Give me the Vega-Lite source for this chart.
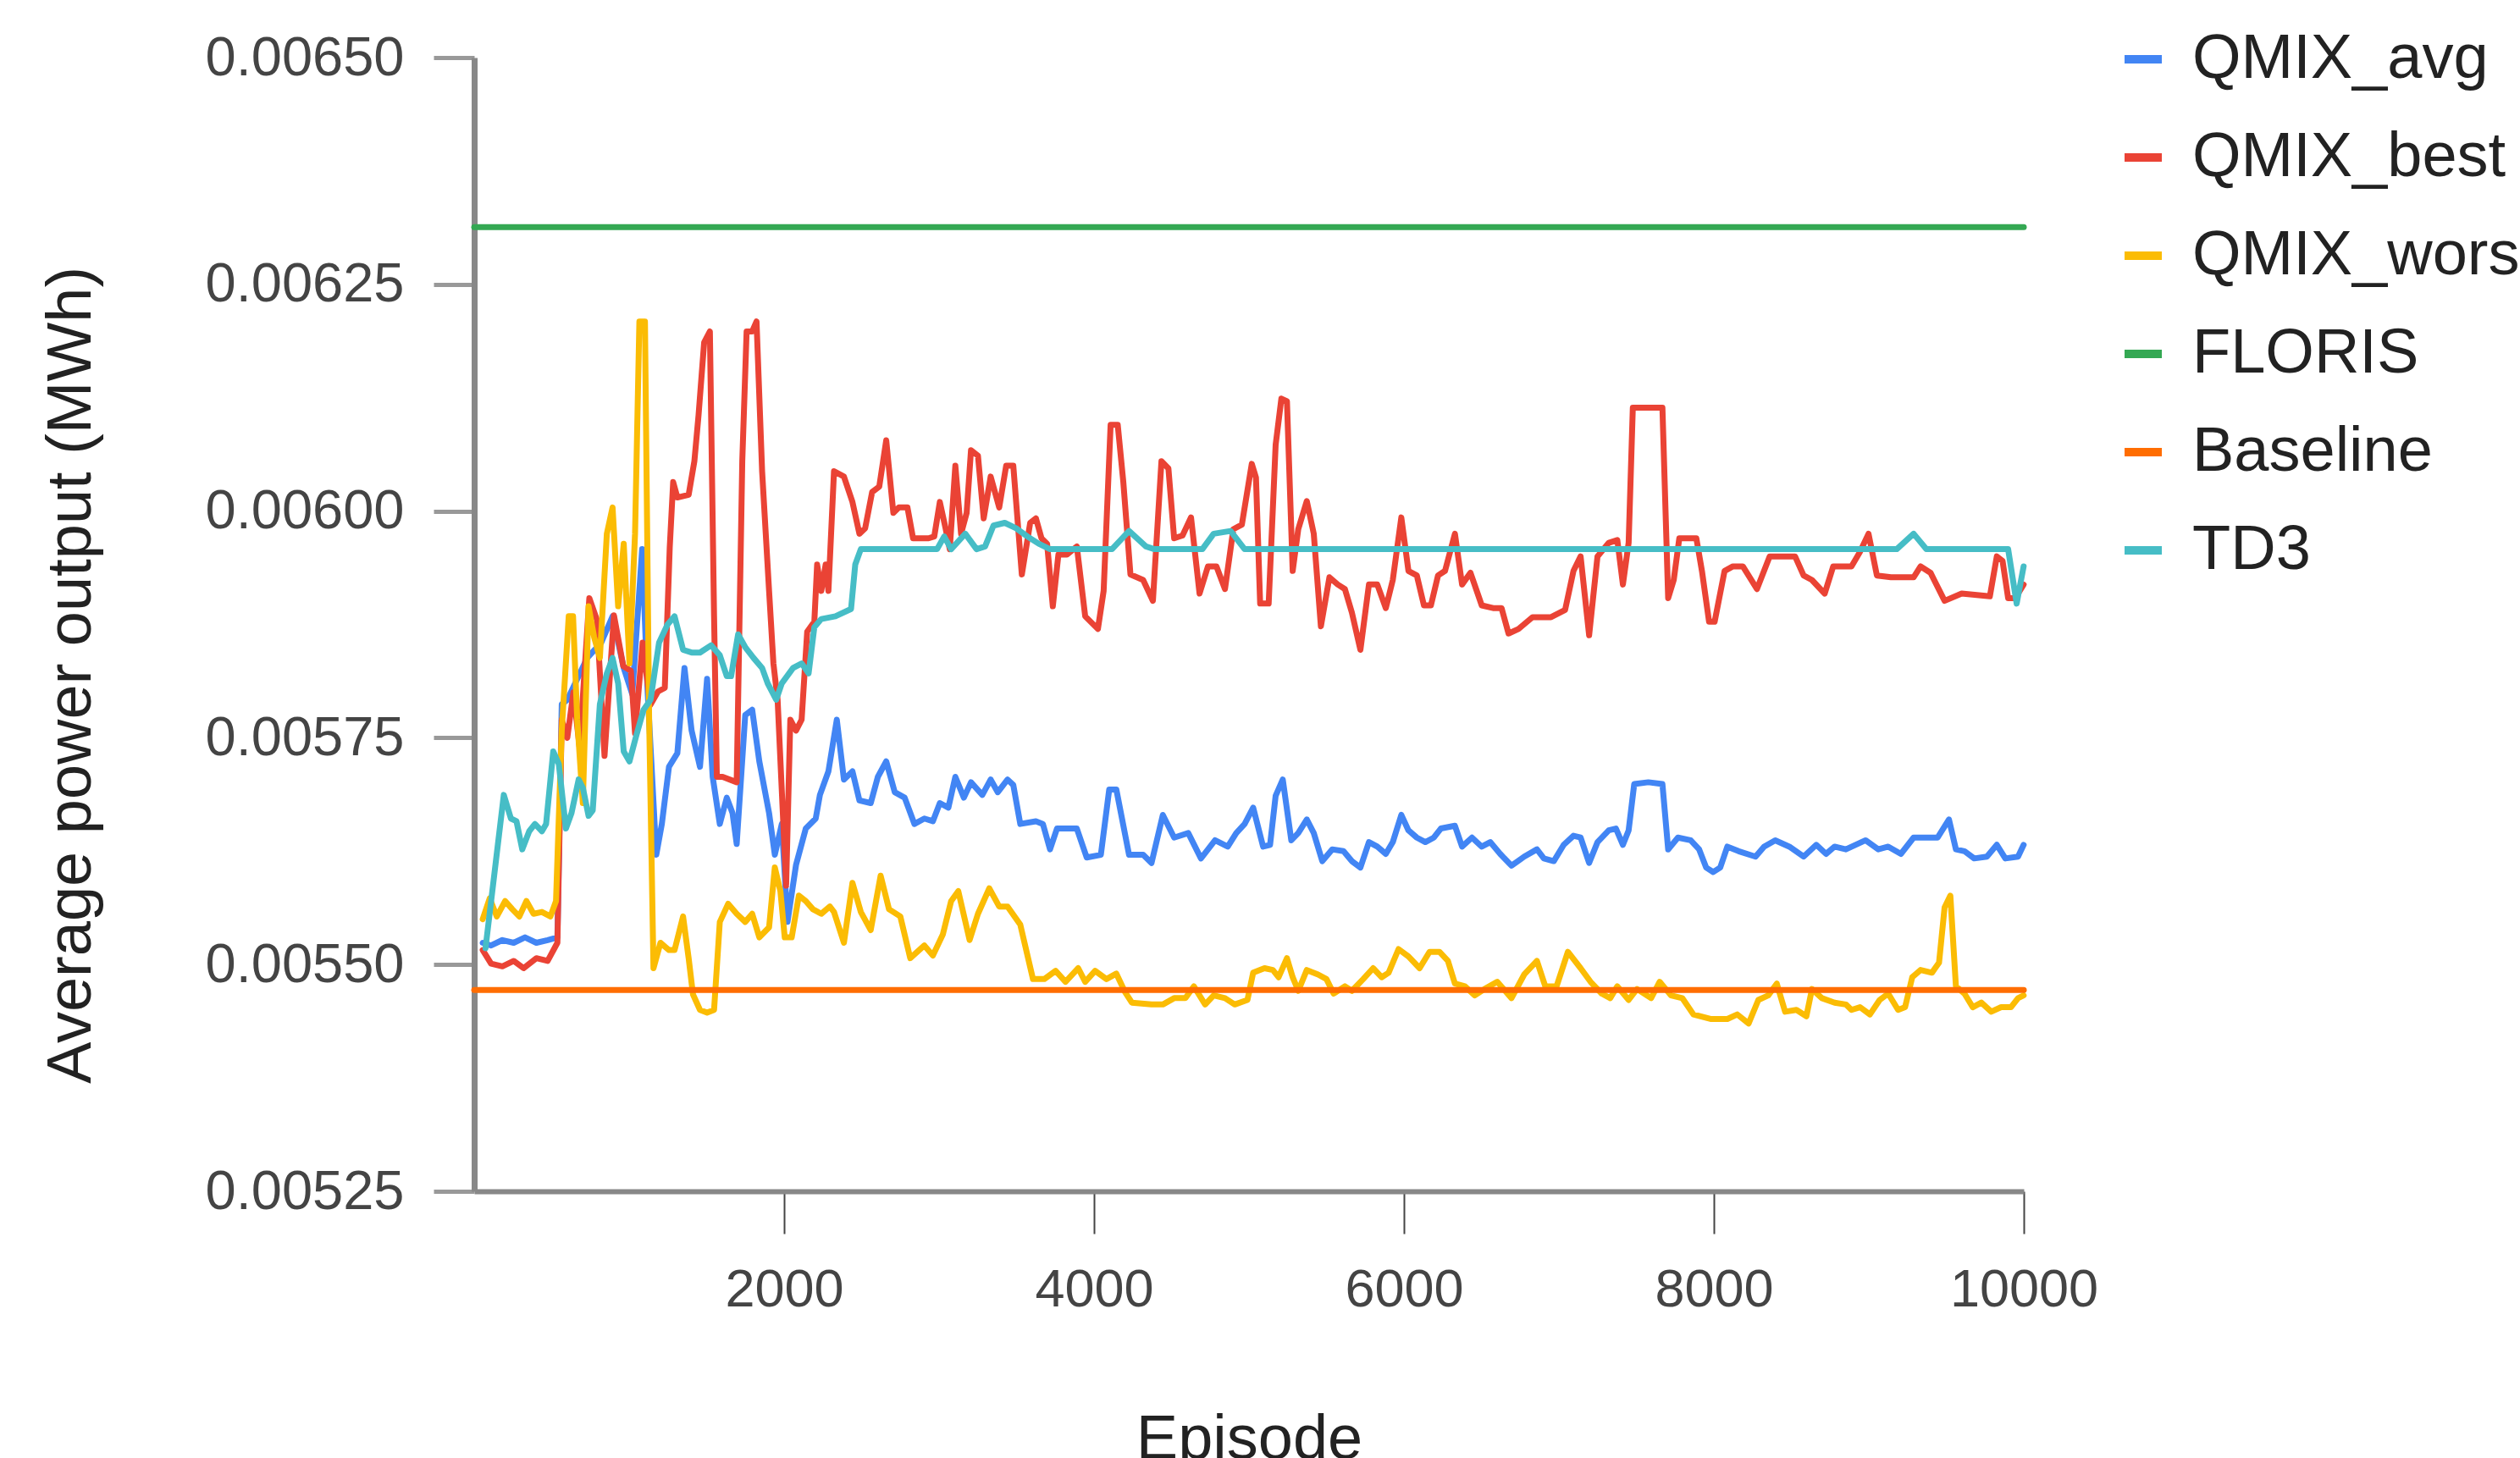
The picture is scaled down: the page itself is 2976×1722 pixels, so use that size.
{
"$schema": "https://vega.github.io/schema/vega-lite/v6.json",
"width": 1830, "height": 1339,
"autosize": {"type": "none"},
"padding": {"left": 560, "top": 68, "right": 586, "bottom": 315},
"background": "white",
"config": {"view": {"stroke": null}, "font": "Liberation Sans"},
"data": {"values": [
{"series":"QMIX_avg","episode":55,"value":0.005524},{"series":"QMIX_avg","episode":109,"value":0.005521},{"series":"QMIX_avg","episode":182,"value":0.005527},{"series":"QMIX_avg","episode":255,"value":0.005524},{"series":"QMIX_avg","episode":328,"value":0.00553},{"series":"QMIX_avg","episode":401,"value":0.005524},{"series":"QMIX_avg","episode":474,"value":0.005527},{"series":"QMIX_avg","episode":537,"value":0.00553},{"series":"QMIX_avg","episode":565,"value":0.005787},{"series":"QMIX_avg","episode":601,"value":0.005792},{"series":"QMIX_avg","episode":729,"value":0.005838},{"series":"QMIX_avg","episode":820,"value":0.005855},{"series":"QMIX_avg","episode":893,"value":0.005884},{"series":"QMIX_avg","episode":965,"value":0.005827},{"series":"QMIX_avg","episode":1020,"value":0.005798},{"series":"QMIX_avg","episode":1084,"value":0.005958},{"series":"QMIX_avg","episode":1120,"value":0.005798},{"series":"QMIX_avg","episode":1175,"value":0.005621},{"series":"QMIX_avg","episode":1211,"value":0.005655},{"series":"QMIX_avg","episode":1257,"value":0.005718},{"series":"QMIX_avg","episode":1311,"value":0.005733},{"series":"QMIX_avg","episode":1357,"value":0.005827},{"series":"QMIX_avg","episode":1403,"value":0.005758},{"series":"QMIX_avg","episode":1457,"value":0.005718},{"series":"QMIX_avg","episode":1503,"value":0.005815},{"series":"QMIX_avg","episode":1539,"value":0.005707},{"series":"QMIX_avg","episode":1585,"value":0.005655},{"series":"QMIX_avg","episode":1630,"value":0.005684},{"series":"QMIX_avg","episode":1667,"value":0.005667},{"series":"QMIX_avg","episode":1694,"value":0.005633},{"series":"QMIX_avg","episode":1749,"value":0.005775},{"series":"QMIX_avg","episode":1794,"value":0.005781},{"series":"QMIX_avg","episode":1840,"value":0.005724},{"series":"QMIX_avg","episode":1903,"value":0.005667},{"series":"QMIX_avg","episode":1940,"value":0.005621},{"series":"QMIX_avg","episode":1985,"value":0.005655},{"series":"QMIX_avg","episode":2022,"value":0.005547},{"series":"QMIX_avg","episode":2077,"value":0.00561},{"series":"QMIX_avg","episode":2140,"value":0.00565},{"series":"QMIX_avg","episode":2204,"value":0.005661},{"series":"QMIX_avg","episode":2231,"value":0.005687},{"series":"QMIX_avg","episode":2286,"value":0.005713},{"series":"QMIX_avg","episode":2340,"value":0.00577},{"series":"QMIX_avg","episode":2386,"value":0.005704},{"series":"QMIX_avg","episode":2441,"value":0.005713},{"series":"QMIX_avg","episode":2486,"value":0.005681},{"series":"QMIX_avg","episode":2559,"value":0.005678},{"series":"QMIX_avg","episode":2605,"value":0.005707},{"series":"QMIX_avg","episode":2659,"value":0.005724},{"series":"QMIX_avg","episode":2714,"value":0.00569},{"series":"QMIX_avg","episode":2778,"value":0.005684},{"series":"QMIX_avg","episode":2841,"value":0.005655},{"series":"QMIX_avg","episode":2905,"value":0.005661},{"series":"QMIX_avg","episode":2960,"value":0.005658},{"series":"QMIX_avg","episode":3005,"value":0.005678},{"series":"QMIX_avg","episode":3060,"value":0.005673},{"series":"QMIX_avg","episode":3105,"value":0.005707},{"series":"QMIX_avg","episode":3160,"value":0.005684},{"series":"QMIX_avg","episode":3206,"value":0.005701},{"series":"QMIX_avg","episode":3279,"value":0.005687},{"series":"QMIX_avg","episode":3333,"value":0.005704},{"series":"QMIX_avg","episode":3379,"value":0.00569},{"series":"QMIX_avg","episode":3442,"value":0.005704},{"series":"QMIX_avg","episode":3479,"value":0.005698},{"series":"QMIX_avg","episode":3524,"value":0.005655},{"series":"QMIX_avg","episode":3625,"value":0.005658},{"series":"QMIX_avg","episode":3670,"value":0.005655},{"series":"QMIX_avg","episode":3716,"value":0.005627},{"series":"QMIX_avg","episode":3761,"value":0.00565},{"series":"QMIX_avg","episode":3889,"value":0.00565},{"series":"QMIX_avg","episode":3953,"value":0.005618},{"series":"QMIX_avg","episode":4044,"value":0.005621},{"series":"QMIX_avg","episode":4098,"value":0.005693},{"series":"QMIX_avg","episode":4144,"value":0.005693},{"series":"QMIX_avg","episode":4226,"value":0.005621},{"series":"QMIX_avg","episode":4317,"value":0.005621},{"series":"QMIX_avg","episode":4371,"value":0.005612},{"series":"QMIX_avg","episode":4444,"value":0.005665},{"series":"QMIX_avg","episode":4517,"value":0.00564},{"series":"QMIX_avg","episode":4608,"value":0.005645},{"series":"QMIX_avg","episode":4690,"value":0.005617},{"series":"QMIX_avg","episode":4781,"value":0.005637},{"series":"QMIX_avg","episode":4863,"value":0.00563},{"series":"QMIX_avg","episode":4918,"value":0.005645},{"series":"QMIX_avg","episode":4972,"value":0.005655},{"series":"QMIX_avg","episode":5027,"value":0.005673},{"series":"QMIX_avg","episode":5091,"value":0.00563},{"series":"QMIX_avg","episode":5136,"value":0.005632},{"series":"QMIX_avg","episode":5172,"value":0.005686},{"series":"QMIX_avg","episode":5218,"value":0.005704},{"series":"QMIX_avg","episode":5273,"value":0.005637},{"series":"QMIX_avg","episode":5318,"value":0.005645},{"series":"QMIX_avg","episode":5373,"value":0.00566},{"series":"QMIX_avg","episode":5418,"value":0.005645},{"series":"QMIX_avg","episode":5473,"value":0.005614},{"series":"QMIX_avg","episode":5537,"value":0.005627},{"series":"QMIX_avg","episode":5610,"value":0.005625},{"series":"QMIX_avg","episode":5664,"value":0.005614},{"series":"QMIX_avg","episode":5719,"value":0.005607},{"series":"QMIX_avg","episode":5774,"value":0.005635},{"series":"QMIX_avg","episode":5828,"value":0.00563},{"series":"QMIX_avg","episode":5883,"value":0.005622},{"series":"QMIX_avg","episode":5928,"value":0.005635},{"series":"QMIX_avg","episode":5983,"value":0.005665},{"series":"QMIX_avg","episode":6029,"value":0.005648},{"series":"QMIX_avg","episode":6083,"value":0.00564},{"series":"QMIX_avg","episode":6138,"value":0.005635},{"series":"QMIX_avg","episode":6193,"value":0.00564},{"series":"QMIX_avg","episode":6238,"value":0.00565},{"series":"QMIX_avg","episode":6329,"value":0.005653},{"series":"QMIX_avg","episode":6375,"value":0.00563},{"series":"QMIX_avg","episode":6439,"value":0.00564},{"series":"QMIX_avg","episode":6502,"value":0.00563},{"series":"QMIX_avg","episode":6557,"value":0.005635},{"series":"QMIX_avg","episode":6621,"value":0.005622},{"series":"QMIX_avg","episode":6694,"value":0.005609},{"series":"QMIX_avg","episode":6776,"value":0.005619},{"series":"QMIX_avg","episode":6858,"value":0.005627},{"series":"QMIX_avg","episode":6903,"value":0.005617},{"series":"QMIX_avg","episode":6967,"value":0.005614},{"series":"QMIX_avg","episode":7031,"value":0.005632},{"series":"QMIX_avg","episode":7094,"value":0.005642},{"series":"QMIX_avg","episode":7140,"value":0.00564},{"series":"QMIX_avg","episode":7195,"value":0.005612},{"series":"QMIX_avg","episode":7249,"value":0.005635},{"series":"QMIX_avg","episode":7322,"value":0.005648},{"series":"QMIX_avg","episode":7368,"value":0.00565},{"series":"QMIX_avg","episode":7413,"value":0.005632},{"series":"QMIX_avg","episode":7450,"value":0.005648},{"series":"QMIX_avg","episode":7486,"value":0.005699},{"series":"QMIX_avg","episode":7577,"value":0.005701},{"series":"QMIX_avg","episode":7668,"value":0.005699},{"series":"QMIX_avg","episode":7705,"value":0.005627},{"series":"QMIX_avg","episode":7768,"value":0.00564},{"series":"QMIX_avg","episode":7850,"value":0.005637},{"series":"QMIX_avg","episode":7905,"value":0.005627},{"series":"QMIX_avg","episode":7950,"value":0.005607},{"series":"QMIX_avg","episode":7996,"value":0.005602},{"series":"QMIX_avg","episode":8041,"value":0.005607},{"series":"QMIX_avg","episode":8087,"value":0.00563},{"series":"QMIX_avg","episode":8160,"value":0.005625},{"series":"QMIX_avg","episode":8269,"value":0.005619},{"series":"QMIX_avg","episode":8324,"value":0.00563},{"series":"QMIX_avg","episode":8396,"value":0.005637},{"series":"QMIX_avg","episode":8487,"value":0.00563},{"series":"QMIX_avg","episode":8579,"value":0.005619},{"series":"QMIX_avg","episode":8661,"value":0.005632},{"series":"QMIX_avg","episode":8724,"value":0.005622},{"series":"QMIX_avg","episode":8779,"value":0.00563},{"series":"QMIX_avg","episode":8852,"value":0.005627},{"series":"QMIX_avg","episode":8979,"value":0.005637},{"series":"QMIX_avg","episode":9061,"value":0.005627},{"series":"QMIX_avg","episode":9125,"value":0.00563},{"series":"QMIX_avg","episode":9207,"value":0.005622},{"series":"QMIX_avg","episode":9289,"value":0.00564},{"series":"QMIX_avg","episode":9371,"value":0.00564},{"series":"QMIX_avg","episode":9444,"value":0.00564},{"series":"QMIX_avg","episode":9517,"value":0.00566},{"series":"QMIX_avg","episode":9562,"value":0.005627},{"series":"QMIX_avg","episode":9617,"value":0.005625},{"series":"QMIX_avg","episode":9680,"value":0.005617},{"series":"QMIX_avg","episode":9762,"value":0.005619},{"series":"QMIX_avg","episode":9826,"value":0.005632},{"series":"QMIX_avg","episode":9881,"value":0.005617},{"series":"QMIX_avg","episode":9963,"value":0.005619},{"series":"QMIX_avg","episode":9999,"value":0.005632},
{"series":"QMIX_best","episode":55,"value":0.005516},{"series":"QMIX_best","episode":109,"value":0.005501},{"series":"QMIX_best","episode":182,"value":0.005498},{"series":"QMIX_best","episode":255,"value":0.005504},{"series":"QMIX_best","episode":319,"value":0.005496},{"series":"QMIX_best","episode":401,"value":0.005507},{"series":"QMIX_best","episode":474,"value":0.005504},{"series":"QMIX_best","episode":537,"value":0.005524},{"series":"QMIX_best","episode":565,"value":0.00577},{"series":"QMIX_best","episode":601,"value":0.00575},{"series":"QMIX_best","episode":640,"value":0.0058},{"series":"QMIX_best","episode":680,"value":0.00574},{"series":"QMIX_best","episode":743,"value":0.005904},{"series":"QMIX_best","episode":792,"value":0.00588},{"series":"QMIX_best","episode":841,"value":0.00573},{"series":"QMIX_best","episode":902,"value":0.005885},{"series":"QMIX_best","episode":962,"value":0.005829},{"series":"QMIX_best","episode":1011,"value":0.005824},{"series":"QMIX_best","episode":1038,"value":0.005755},{"series":"QMIX_best","episode":1087,"value":0.005855},{"series":"QMIX_best","episode":1136,"value":0.005786},{"series":"QMIX_best","episode":1186,"value":0.005801},{"series":"QMIX_best","episode":1230,"value":0.005805},{"series":"QMIX_best","episode":1262,"value":0.00596},{"series":"QMIX_best","episode":1284,"value":0.006032},{"series":"QMIX_best","episode":1311,"value":0.006015},{"series":"QMIX_best","episode":1384,"value":0.006018},{"series":"QMIX_best","episode":1421,"value":0.006055},{"series":"QMIX_best","episode":1448,"value":0.006106},{"series":"QMIX_best","episode":1484,"value":0.006186},{"series":"QMIX_best","episode":1521,"value":0.006198},{"series":"QMIX_best","episode":1548,"value":0.005884},{"series":"QMIX_best","episode":1566,"value":0.005707},{"series":"QMIX_best","episode":1603,"value":0.005707},{"series":"QMIX_best","episode":1694,"value":0.005701},{"series":"QMIX_best","episode":1730,"value":0.006055},{"series":"QMIX_best","episode":1758,"value":0.006198},{"series":"QMIX_best","episode":1794,"value":0.006198},{"series":"QMIX_best","episode":1822,"value":0.006209},{"series":"QMIX_best","episode":1858,"value":0.006044},{"series":"QMIX_best","episode":1903,"value":0.005912},{"series":"QMIX_best","episode":1931,"value":0.005832},{"series":"QMIX_best","episode":1958,"value":0.005792},{"series":"QMIX_best","episode":1995,"value":0.005655},{"series":"QMIX_best","episode":2013,"value":0.005587},{"series":"QMIX_best","episode":2040,"value":0.00577},{"series":"QMIX_best","episode":2077,"value":0.005758},{"series":"QMIX_best","episode":2113,"value":0.00577},{"series":"QMIX_best","episode":2149,"value":0.005867},{"series":"QMIX_best","episode":2195,"value":0.005878},{"series":"QMIX_best","episode":2213,"value":0.005941},{"series":"QMIX_best","episode":2240,"value":0.005912},{"series":"QMIX_best","episode":2268,"value":0.005941},{"series":"QMIX_best","episode":2286,"value":0.005912},{"series":"QMIX_best","episode":2322,"value":0.006044},{"series":"QMIX_best","episode":2386,"value":0.006038},{"series":"QMIX_best","episode":2441,"value":0.00601},{"series":"QMIX_best","episode":2486,"value":0.005975},{"series":"QMIX_best","episode":2523,"value":0.005981},{"series":"QMIX_best","episode":2568,"value":0.006021},{"series":"QMIX_best","episode":2614,"value":0.006027},{"series":"QMIX_best","episode":2659,"value":0.006078},{"series":"QMIX_best","episode":2705,"value":0.005998},{"series":"QMIX_best","episode":2741,"value":0.006004},{"series":"QMIX_best","episode":2796,"value":0.006004},{"series":"QMIX_best","episode":2832,"value":0.00597},{"series":"QMIX_best","episode":2932,"value":0.00597},{"series":"QMIX_best","episode":2969,"value":0.005972},{"series":"QMIX_best","episode":3005,"value":0.00601},{"series":"QMIX_best","episode":3042,"value":0.005981},{"series":"QMIX_best","episode":3069,"value":0.005958},{"series":"QMIX_best","episode":3105,"value":0.00605},{"series":"QMIX_best","episode":3142,"value":0.005975},{"series":"QMIX_best","episode":3178,"value":0.005998},{"series":"QMIX_best","episode":3206,"value":0.006067},{"series":"QMIX_best","episode":3251,"value":0.006061},{"series":"QMIX_best","episode":3288,"value":0.005992},{"series":"QMIX_best","episode":3333,"value":0.006038},{"series":"QMIX_best","episode":3388,"value":0.006004},{"series":"QMIX_best","episode":3433,"value":0.00605},{"series":"QMIX_best","episode":3479,"value":0.00605},{"series":"QMIX_best","episode":3534,"value":0.00593},{"series":"QMIX_best","episode":3588,"value":0.005987},{"series":"QMIX_best","episode":3625,"value":0.005992},{"series":"QMIX_best","episode":3661,"value":0.00597},{"series":"QMIX_best","episode":3697,"value":0.005964},{"series":"QMIX_best","episode":3734,"value":0.005895},{"series":"QMIX_best","episode":3770,"value":0.005952},{"series":"QMIX_best","episode":3825,"value":0.005952},{"series":"QMIX_best","episode":3889,"value":0.005961},{"series":"QMIX_best","episode":3943,"value":0.005884},{"series":"QMIX_best","episode":4025,"value":0.00587},{"series":"QMIX_best","episode":4062,"value":0.005912},{"series":"QMIX_best","episode":4107,"value":0.006095},{"series":"QMIX_best","episode":4153,"value":0.006095},{"series":"QMIX_best","episode":4189,"value":0.006032},{"series":"QMIX_best","episode":4235,"value":0.00593},{"series":"QMIX_best","episode":4317,"value":0.005924},{"series":"QMIX_best","episode":4380,"value":0.005901},{"series":"QMIX_best","episode":4435,"value":0.006055},{"series":"QMIX_best","episode":4480,"value":0.006047},{"series":"QMIX_best","episode":4517,"value":0.00597},{"series":"QMIX_best","episode":4571,"value":0.005973},{"series":"QMIX_best","episode":4626,"value":0.005993},{"series":"QMIX_best","episode":4681,"value":0.005909},{"series":"QMIX_best","episode":4735,"value":0.005939},{"series":"QMIX_best","episode":4790,"value":0.005939},{"series":"QMIX_best","episode":4845,"value":0.005914},{"series":"QMIX_best","episode":4899,"value":0.00598},{"series":"QMIX_best","episode":4954,"value":0.005985},{"series":"QMIX_best","episode":5018,"value":0.006052},{"series":"QMIX_best","episode":5045,"value":0.006037},{"series":"QMIX_best","episode":5072,"value":0.005898},{"series":"QMIX_best","episode":5127,"value":0.005898},{"series":"QMIX_best","episode":5172,"value":0.006073},{"series":"QMIX_best","episode":5209,"value":0.006124},{"series":"QMIX_best","episode":5245,"value":0.006121},{"series":"QMIX_best","episode":5282,"value":0.005934},{"series":"QMIX_best","episode":5318,"value":0.00598},{"series":"QMIX_best","episode":5373,"value":0.006011},{"series":"QMIX_best","episode":5418,"value":0.005975},{"series":"QMIX_best","episode":5464,"value":0.005873},{"series":"QMIX_best","episode":5519,"value":0.005927},{"series":"QMIX_best","episode":5573,"value":0.005919},{"series":"QMIX_best","episode":5619,"value":0.005914},{"series":"QMIX_best","episode":5664,"value":0.005888},{"series":"QMIX_best","episode":5719,"value":0.005847},{"series":"QMIX_best","episode":5774,"value":0.005919},{"series":"QMIX_best","episode":5828,"value":0.005919},{"series":"QMIX_best","episode":5883,"value":0.005893},{"series":"QMIX_best","episode":5928,"value":0.005924},{"series":"QMIX_best","episode":5983,"value":0.005993},{"series":"QMIX_best","episode":6029,"value":0.005934},{"series":"QMIX_best","episode":6083,"value":0.005929},{"series":"QMIX_best","episode":6129,"value":0.005896},{"series":"QMIX_best","episode":6174,"value":0.005896},{"series":"QMIX_best","episode":6220,"value":0.005929},{"series":"QMIX_best","episode":6265,"value":0.005934},{"series":"QMIX_best","episode":6329,"value":0.005975},{"series":"QMIX_best","episode":6375,"value":0.005919},{"series":"QMIX_best","episode":6429,"value":0.005932},{"series":"QMIX_best","episode":6502,"value":0.005896},{"series":"QMIX_best","episode":6575,"value":0.005893},{"series":"QMIX_best","episode":6630,"value":0.005893},{"series":"QMIX_best","episode":6675,"value":0.005865},{"series":"QMIX_best","episode":6739,"value":0.00587},{"series":"QMIX_best","episode":6830,"value":0.005883},{"series":"QMIX_best","episode":6949,"value":0.005883},{"series":"QMIX_best","episode":7040,"value":0.005891},{"series":"QMIX_best","episode":7094,"value":0.005934},{"series":"QMIX_best","episode":7140,"value":0.00595},{"series":"QMIX_best","episode":7195,"value":0.005863},{"series":"QMIX_best","episode":7249,"value":0.00595},{"series":"QMIX_best","episode":7322,"value":0.005965},{"series":"QMIX_best","episode":7377,"value":0.005968},{"series":"QMIX_best","episode":7413,"value":0.005919},{"series":"QMIX_best","episode":7450,"value":0.005965},{"series":"QMIX_best","episode":7477,"value":0.006114},{"series":"QMIX_best","episode":7668,"value":0.006114},{"series":"QMIX_best","episode":7705,"value":0.005904},{"series":"QMIX_best","episode":7741,"value":0.005924},{"series":"QMIX_best","episode":7777,"value":0.00597},{"series":"QMIX_best","episode":7887,"value":0.00597},{"series":"QMIX_best","episode":7923,"value":0.005934},{"series":"QMIX_best","episode":7969,"value":0.005878},{"series":"QMIX_best","episode":8005,"value":0.005878},{"series":"QMIX_best","episode":8069,"value":0.005934},{"series":"QMIX_best","episode":8123,"value":0.005939},{"series":"QMIX_best","episode":8187,"value":0.005939},{"series":"QMIX_best","episode":8278,"value":0.005914},{"series":"QMIX_best","episode":8360,"value":0.00595},{"series":"QMIX_best","episode":8524,"value":0.00595},{"series":"QMIX_best","episode":8579,"value":0.005929},{"series":"QMIX_best","episode":8633,"value":0.005924},{"series":"QMIX_best","episode":8715,"value":0.005909},{"series":"QMIX_best","episode":8770,"value":0.005939},{"series":"QMIX_best","episode":8888,"value":0.005939},{"series":"QMIX_best","episode":8943,"value":0.005955},{"series":"QMIX_best","episode":8998,"value":0.005975},{"series":"QMIX_best","episode":9052,"value":0.005929},{"series":"QMIX_best","episode":9143,"value":0.005927},{"series":"QMIX_best","episode":9289,"value":0.005927},{"series":"QMIX_best","episode":9334,"value":0.005939},{"series":"QMIX_best","episode":9398,"value":0.005932},{"series":"QMIX_best","episode":9489,"value":0.005901},{"series":"QMIX_best","episode":9599,"value":0.005909},{"series":"QMIX_best","episode":9781,"value":0.005906},{"series":"QMIX_best","episode":9826,"value":0.00595},{"series":"QMIX_best","episode":9863,"value":0.005945},{"series":"QMIX_best","episode":9899,"value":0.005904},{"series":"QMIX_best","episode":9945,"value":0.005904},{"series":"QMIX_best","episode":9999,"value":0.005919},
{"series":"QMIX_worst","episode":55,"value":0.00555},{"series":"QMIX_worst","episode":100,"value":0.005573},{"series":"QMIX_worst","episode":146,"value":0.005553},{"series":"QMIX_worst","episode":200,"value":0.00557},{"series":"QMIX_worst","episode":246,"value":0.005561},{"series":"QMIX_worst","episode":291,"value":0.005553},{"series":"QMIX_worst","episode":337,"value":0.00557},{"series":"QMIX_worst","episode":383,"value":0.005556},{"series":"QMIX_worst","episode":437,"value":0.005558},{"series":"QMIX_worst","episode":492,"value":0.005553},{"series":"QMIX_worst","episode":528,"value":0.00557},{"series":"QMIX_worst","episode":565,"value":0.005758},{"series":"QMIX_worst","episode":610,"value":0.005884},{"series":"QMIX_worst","episode":638,"value":0.005884},{"series":"QMIX_worst","episode":665,"value":0.00577},{"series":"QMIX_worst","episode":701,"value":0.005678},{"series":"QMIX_worst","episode":738,"value":0.005895},{"series":"QMIX_worst","episode":774,"value":0.005861},{"series":"QMIX_worst","episode":811,"value":0.005838},{"series":"QMIX_worst","episode":856,"value":0.005975},{"series":"QMIX_worst","episode":893,"value":0.006004},{"series":"QMIX_worst","episode":929,"value":0.005895},{"series":"QMIX_worst","episode":965,"value":0.005964},{"series":"QMIX_worst","episode":1002,"value":0.005832},{"series":"QMIX_worst","episode":1038,"value":0.005975},{"series":"QMIX_worst","episode":1066,"value":0.006209},{"series":"QMIX_worst","episode":1102,"value":0.006209},{"series":"QMIX_worst","episode":1129,"value":0.00577},{"series":"QMIX_worst","episode":1157,"value":0.005496},{"series":"QMIX_worst","episode":1202,"value":0.005524},{"series":"QMIX_worst","episode":1257,"value":0.005516},{"series":"QMIX_worst","episode":1293,"value":0.005516},{"series":"QMIX_worst","episode":1348,"value":0.005553},{"series":"QMIX_worst","episode":1384,"value":0.005507},{"series":"QMIX_worst","episode":1412,"value":0.005467},{"series":"QMIX_worst","episode":1457,"value":0.00545},{"series":"QMIX_worst","episode":1503,"value":0.005447},{"series":"QMIX_worst","episode":1548,"value":0.00545},{"series":"QMIX_worst","episode":1585,"value":0.005547},{"series":"QMIX_worst","episode":1639,"value":0.005567},{"series":"QMIX_worst","episode":1694,"value":0.005556},{"series":"QMIX_worst","episode":1749,"value":0.005547},{"series":"QMIX_worst","episode":1794,"value":0.005556},{"series":"QMIX_worst","episode":1840,"value":0.00553},{"series":"QMIX_worst","episode":1903,"value":0.005541},{"series":"QMIX_worst","episode":1940,"value":0.005607},{"series":"QMIX_worst","episode":1976,"value":0.005581},{"series":"QMIX_worst","episode":2004,"value":0.00553},{"series":"QMIX_worst","episode":2049,"value":0.00553},{"series":"QMIX_worst","episode":2095,"value":0.005576},{"series":"QMIX_worst","episode":2140,"value":0.00557},{"series":"QMIX_worst","episode":2186,"value":0.005561},{"series":"QMIX_worst","episode":2240,"value":0.005556},{"series":"QMIX_worst","episode":2295,"value":0.005564},{"series":"QMIX_worst","episode":2322,"value":0.005558},{"series":"QMIX_worst","episode":2386,"value":0.005524},{"series":"QMIX_worst","episode":2441,"value":0.00559},{"series":"QMIX_worst","episode":2495,"value":0.005558},{"series":"QMIX_worst","episode":2559,"value":0.005538},{"series":"QMIX_worst","episode":2623,"value":0.005598},{"series":"QMIX_worst","episode":2677,"value":0.005561},{"series":"QMIX_worst","episode":2750,"value":0.005553},{"series":"QMIX_worst","episode":2814,"value":0.005507},{"series":"QMIX_worst","episode":2905,"value":0.005521},{"series":"QMIX_worst","episode":2960,"value":0.00551},{"series":"QMIX_worst","episode":3024,"value":0.005533},{"series":"QMIX_worst","episode":3078,"value":0.00557},{"series":"QMIX_worst","episode":3124,"value":0.005581},{"series":"QMIX_worst","episode":3197,"value":0.005527},{"series":"QMIX_worst","episode":3251,"value":0.005556},{"series":"QMIX_worst","episode":3324,"value":0.005584},{"series":"QMIX_worst","episode":3388,"value":0.005564},{"series":"QMIX_worst","episode":3442,"value":0.005564},{"series":"QMIX_worst","episode":3524,"value":0.005544},{"series":"QMIX_worst","episode":3606,"value":0.005484},{"series":"QMIX_worst","episode":3679,"value":0.005484},{"series":"QMIX_worst","episode":3752,"value":0.005493},{"series":"QMIX_worst","episode":3816,"value":0.005481},{"series":"QMIX_worst","episode":3898,"value":0.005496},{"series":"QMIX_worst","episode":3943,"value":0.005481},{"series":"QMIX_worst","episode":4007,"value":0.005493},{"series":"QMIX_worst","episode":4080,"value":0.005484},{"series":"QMIX_worst","episode":4144,"value":0.00549},{"series":"QMIX_worst","episode":4199,"value":0.00547},{"series":"QMIX_worst","episode":4244,"value":0.005458},{"series":"QMIX_worst","episode":4371,"value":0.005456},{"series":"QMIX_worst","episode":4444,"value":0.005456},{"series":"QMIX_worst","episode":4517,"value":0.005463},{"series":"QMIX_worst","episode":4590,"value":0.005463},{"series":"QMIX_worst","episode":4644,"value":0.005476},{"series":"QMIX_worst","episode":4717,"value":0.005456},{"series":"QMIX_worst","episode":4772,"value":0.005466},{"series":"QMIX_worst","episode":4845,"value":0.005463},{"series":"QMIX_worst","episode":4908,"value":0.005456},{"series":"QMIX_worst","episode":4990,"value":0.005461},{"series":"QMIX_worst","episode":5027,"value":0.005491},{"series":"QMIX_worst","episode":5100,"value":0.005496},{"series":"QMIX_worst","episode":5154,"value":0.005494},{"series":"QMIX_worst","episode":5191,"value":0.005486},{"series":"QMIX_worst","episode":5245,"value":0.005507},{"series":"QMIX_worst","episode":5282,"value":0.005486},{"series":"QMIX_worst","episode":5318,"value":0.005471},{"series":"QMIX_worst","episode":5373,"value":0.005494},{"series":"QMIX_worst","episode":5446,"value":0.005489},{"series":"QMIX_worst","episode":5500,"value":0.005484},{"series":"QMIX_worst","episode":5546,"value":0.005468},{"series":"QMIX_worst","episode":5619,"value":0.005476},{"series":"QMIX_worst","episode":5664,"value":0.005471},{"series":"QMIX_worst","episode":5737,"value":0.005484},{"series":"QMIX_worst","episode":5801,"value":0.005496},{"series":"QMIX_worst","episode":5856,"value":0.005486},{"series":"QMIX_worst","episode":5901,"value":0.005491},{"series":"QMIX_worst","episode":5965,"value":0.005517},{"series":"QMIX_worst","episode":6029,"value":0.005509},{"series":"QMIX_worst","episode":6101,"value":0.005496},{"series":"QMIX_worst","episode":6165,"value":0.005514},{"series":"QMIX_worst","episode":6229,"value":0.005514},{"series":"QMIX_worst","episode":6284,"value":0.005504},{"series":"QMIX_worst","episode":6329,"value":0.005479},{"series":"QMIX_worst","episode":6393,"value":0.005476},{"series":"QMIX_worst","episode":6457,"value":0.005466},{"series":"QMIX_worst","episode":6520,"value":0.005473},{"series":"QMIX_worst","episode":6602,"value":0.005481},{"series":"QMIX_worst","episode":6694,"value":0.005463},{"series":"QMIX_worst","episode":6776,"value":0.005489},{"series":"QMIX_worst","episode":6858,"value":0.005504},{"series":"QMIX_worst","episode":6912,"value":0.005476},{"series":"QMIX_worst","episode":6985,"value":0.005476},{"series":"QMIX_worst","episode":7058,"value":0.005514},{"series":"QMIX_worst","episode":7140,"value":0.005496},{"series":"QMIX_worst","episode":7204,"value":0.005481},{"series":"QMIX_worst","episode":7276,"value":0.005468},{"series":"QMIX_worst","episode":7331,"value":0.005463},{"series":"QMIX_worst","episode":7377,"value":0.005476},{"series":"QMIX_worst","episode":7450,"value":0.005461},{"series":"QMIX_worst","episode":7504,"value":0.005473},{"series":"QMIX_worst","episode":7595,"value":0.005463},{"series":"QMIX_worst","episode":7650,"value":0.005481},{"series":"QMIX_worst","episode":7723,"value":0.005466},{"series":"QMIX_worst","episode":7796,"value":0.005463},{"series":"QMIX_worst","episode":7868,"value":0.005445},{"series":"QMIX_worst","episode":7978,"value":0.00544},{"series":"QMIX_worst","episode":8087,"value":0.00544},{"series":"QMIX_worst","episode":8151,"value":0.005445},{"series":"QMIX_worst","episode":8224,"value":0.005435},{"series":"QMIX_worst","episode":8287,"value":0.005461},{"series":"QMIX_worst","episode":8351,"value":0.005466},{"series":"QMIX_worst","episode":8406,"value":0.005479},{"series":"QMIX_worst","episode":8460,"value":0.005448},{"series":"QMIX_worst","episode":8533,"value":0.00545},{"series":"QMIX_worst","episode":8597,"value":0.005443},{"series":"QMIX_worst","episode":8633,"value":0.005473},{"series":"QMIX_worst","episode":8697,"value":0.005463},{"series":"QMIX_worst","episode":8779,"value":0.005458},{"series":"QMIX_worst","episode":8852,"value":0.005456},{"series":"QMIX_worst","episode":8888,"value":0.00545},{"series":"QMIX_worst","episode":8943,"value":0.005453},{"series":"QMIX_worst","episode":9007,"value":0.005445},{"series":"QMIX_worst","episode":9070,"value":0.005461},{"series":"QMIX_worst","episode":9125,"value":0.005468},{"series":"QMIX_worst","episode":9189,"value":0.00545},{"series":"QMIX_worst","episode":9234,"value":0.005453},{"series":"QMIX_worst","episode":9280,"value":0.005486},{"series":"QMIX_worst","episode":9334,"value":0.005494},{"series":"QMIX_worst","episode":9407,"value":0.005491},{"series":"QMIX_worst","episode":9453,"value":0.005502},{"series":"QMIX_worst","episode":9489,"value":0.005563},{"series":"QMIX_worst","episode":9526,"value":0.005576},{"series":"QMIX_worst","episode":9562,"value":0.005476},{"series":"QMIX_worst","episode":9617,"value":0.005468},{"series":"QMIX_worst","episode":9671,"value":0.005453},{"series":"QMIX_worst","episode":9726,"value":0.005458},{"series":"QMIX_worst","episode":9790,"value":0.005448},{"series":"QMIX_worst","episode":9854,"value":0.005453},{"series":"QMIX_worst","episode":9917,"value":0.005453},{"series":"QMIX_worst","episode":9963,"value":0.005463},{"series":"QMIX_worst","episode":9999,"value":0.005466},
{"series":"FLORIS","episode":0,"value":0.006313},{"series":"FLORIS","episode":10000,"value":0.006313},
{"series":"Baseline","episode":0,"value":0.005472},{"series":"Baseline","episode":10000,"value":0.005472},
{"series":"TD3","episode":73,"value":0.005518},{"series":"TD3","episode":191,"value":0.005687},{"series":"TD3","episode":237,"value":0.005661},{"series":"TD3","episode":273,"value":0.005658},{"series":"TD3","episode":310,"value":0.005627},{"series":"TD3","episode":355,"value":0.005647},{"series":"TD3","episode":392,"value":0.005655},{"series":"TD3","episode":437,"value":0.005647},{"series":"TD3","episode":464,"value":0.005655},{"series":"TD3","episode":510,"value":0.005735},{"series":"TD3","episode":546,"value":0.005721},{"series":"TD3","episode":592,"value":0.00565},{"series":"TD3","episode":628,"value":0.005667},{"series":"TD3","episode":674,"value":0.005704},{"series":"TD3","episode":701,"value":0.005695},{"series":"TD3","episode":738,"value":0.005664},{"series":"TD3","episode":765,"value":0.00567},{"series":"TD3","episode":811,"value":0.005787},{"series":"TD3","episode":856,"value":0.005821},{"series":"TD3","episode":893,"value":0.005838},{"series":"TD3","episode":929,"value":0.00581},{"series":"TD3","episode":965,"value":0.005735},{"series":"TD3","episode":1002,"value":0.005724},{"series":"TD3","episode":1047,"value":0.005753},{"series":"TD3","episode":1093,"value":0.005781},{"series":"TD3","episode":1138,"value":0.005792},{"series":"TD3","episode":1193,"value":0.005855},{"series":"TD3","episode":1248,"value":0.005875},{"series":"TD3","episode":1293,"value":0.005884},{"series":"TD3","episode":1348,"value":0.005847},{"series":"TD3","episode":1403,"value":0.005844},{"series":"TD3","episode":1457,"value":0.005844},{"series":"TD3","episode":1529,"value":0.005852},{"series":"TD3","episode":1585,"value":0.005841},{"series":"TD3","episode":1630,"value":0.005818},{"series":"TD3","episode":1658,"value":0.005818},{"series":"TD3","episode":1703,"value":0.005864},{"series":"TD3","episode":1749,"value":0.00585},{"series":"TD3","episode":1803,"value":0.005838},{"series":"TD3","episode":1858,"value":0.005827},{"series":"TD3","episode":1894,"value":0.00581},{"series":"TD3","episode":1949,"value":0.005792},{"series":"TD3","episode":1985,"value":0.00581},{"series":"TD3","episode":2058,"value":0.005827},{"series":"TD3","episode":2113,"value":0.005832},{"series":"TD3","episode":2158,"value":0.005821},{"series":"TD3","episode":2195,"value":0.005872},{"series":"TD3","episode":2240,"value":0.005881},{"series":"TD3","episode":2331,"value":0.005884},{"series":"TD3","episode":2432,"value":0.005892},{"series":"TD3","episode":2459,"value":0.005941},{"series":"TD3","episode":2495,"value":0.005958},{"series":"TD3","episode":2987,"value":0.005958},{"series":"TD3","episode":3033,"value":0.005972},{"series":"TD3","episode":3078,"value":0.005958},{"series":"TD3","episode":3169,"value":0.005975},{"series":"TD3","episode":3242,"value":0.005958},{"series":"TD3","episode":3297,"value":0.005961},{"series":"TD3","episode":3351,"value":0.005984},{"series":"TD3","episode":3424,"value":0.005987},{"series":"TD3","episode":3497,"value":0.005981},{"series":"TD3","episode":3570,"value":0.005972},{"series":"TD3","episode":3643,"value":0.005964},{"series":"TD3","episode":3716,"value":0.005958},{"series":"TD3","episode":4116,"value":0.005958},{"series":"TD3","episode":4226,"value":0.005978},{"series":"TD3","episode":4335,"value":0.005961},{"series":"TD3","episode":4390,"value":0.005958},{"series":"TD3","episode":4699,"value":0.005958},{"series":"TD3","episode":4772,"value":0.005975},{"series":"TD3","episode":4881,"value":0.005978},{"series":"TD3","episode":4972,"value":0.005958},{"series":"TD3","episode":9180,"value":0.005958},{"series":"TD3","episode":9289,"value":0.005975},{"series":"TD3","episode":9371,"value":0.005958},{"series":"TD3","episode":9899,"value":0.005958},{"series":"TD3","episode":9954,"value":0.005898},{"series":"TD3","episode":9999,"value":0.005939}
]},
"mark": {"type": "line", "strokeWidth": 7, "strokeJoin": "round", "strokeCap": "round"},
"encoding": {
  "x": {"field": "episode", "type": "quantitative",
        "scale": {"domain": [0, 10000], "nice": false, "zero": false},
        "axis": {"title": "Episode", "values": [2000, 4000, 6000, 8000, 10000], "format": "d", "grid": false,
                 "domainColor": "#888888", "domainWidth": 6, "tickColor": "#444444", "tickWidth": 2, "tickSize": 50,
                 "labelFontSize": 63, "labelColor": "#444444", "labelPadding": 35, "labelFlush": false, "labelOverlap": false, "labelLimit": 1000,
                 "labelFont": "Liberation Sans", "titleFont": "Liberation Sans",
                 "titleFontSize": 74, "titleFontWeight": "normal", "titleColor": "#222222", "titlePadding": 109}},
  "y": {"field": "value", "type": "quantitative",
        "scale": {"domain": [0.00525, 0.0065], "nice": false, "zero": false},
        "axis": {"title": "Average power output (MWh)", "values": [0.00525, 0.0055, 0.00575, 0.006, 0.00625, 0.0065], "format": ".5f", "grid": false,
                 "domainColor": "#888888", "domainWidth": 7, "tickColor": "#999999", "tickWidth": 5, "tickSize": 48,
                 "labelFontSize": 65, "labelColor": "#444444", "labelPadding": 35, "labelFlush": false, "labelOverlap": false, "labelLimit": 1000,
                 "labelFont": "Liberation Sans", "titleFont": "Liberation Sans", "titleLimit": 3000,
                 "titleX": -454, "titleY": 729, "titleAngle": -90, "titleAlign": "center", "titleBaseline": "alphabetic",
                 "titleFontSize": 74, "titleFontWeight": "normal", "titleColor": "#222222"}},
  "color": {"field": "series", "type": "nominal",
            "scale": {"domain": ["QMIX_avg", "QMIX_best", "QMIX_worst", "FLORIS", "Baseline", "TD3"],
                      "range": ["#4285F4", "#EA4335", "#FBBC04", "#34A853", "#FF6D01", "#46BDC6"]},
            "legend": {"title": null, "orient": "none", "legendX": 1934, "legendY": -35,
                       "symbolType": "stroke", "symbolStrokeWidth": 10, "symbolSize": 1936,
                       "labelFontSize": 74, "labelColor": "#222222", "labelFont": "Liberation Sans",
                       "labelOffset": 21, "rowPadding": 42, "padding": 0, "labelLimit": 2000}}
}
}
